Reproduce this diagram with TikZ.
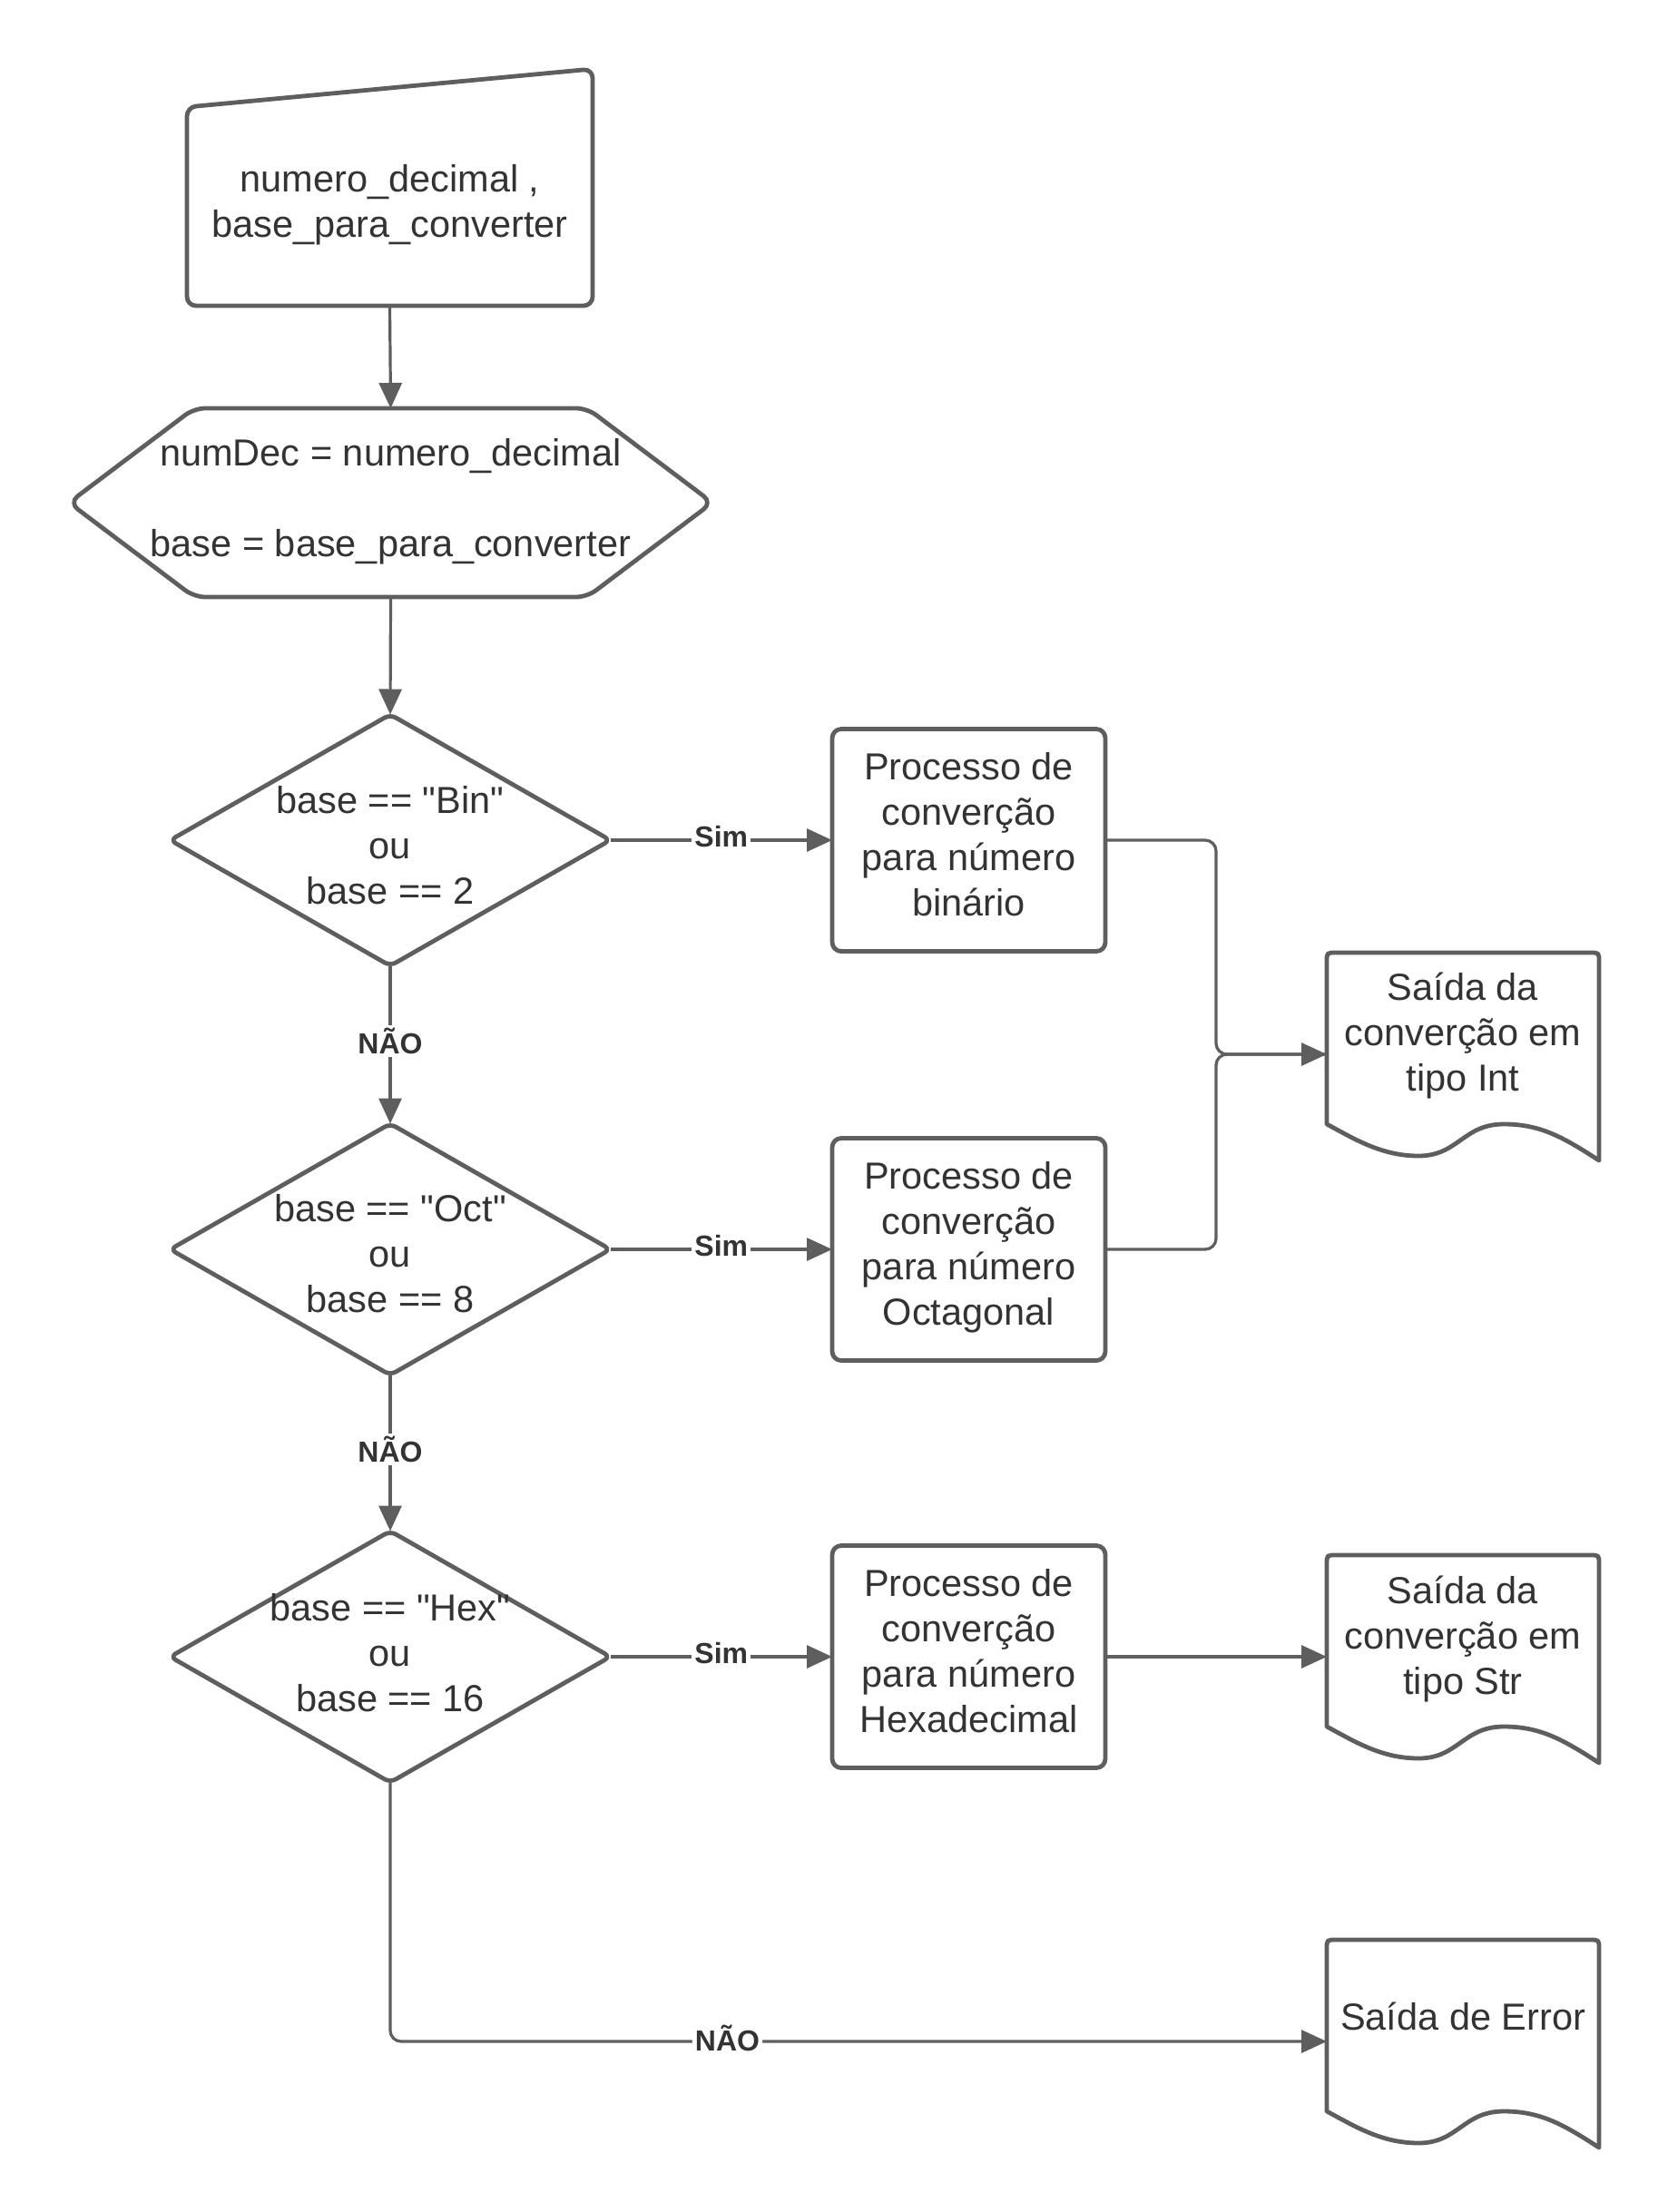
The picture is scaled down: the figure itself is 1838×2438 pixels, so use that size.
\documentclass[tikz,border=0pt]{standalone}
\usepackage{fontspec}
\setmainfont{Liberation Sans}
\usetikzlibrary{arrows.meta,shapes.geometric,calc}
\definecolor{ln}{HTML}{5E5E5E}
\definecolor{txt}{HTML}{333333}
\newcommand\mystrut{\rule[-10pt]{0pt}{44pt}}
\newcommand\lowstrut{\rule[-18pt]{0pt}{44pt}}
\newcommand\qd{\textquotedbl}
\newcommand\docshape[2]{\draw[shp] (#1,#2+189) -- (#1,#2+10) .. controls (#1,#2) .. (#1+10,#2) -- (#1+290,#2) .. controls (#1+300,#2) .. (#1+300,#2+10) -- (#1+300,#2+229) .. controls (#1+260,#2+203) and (#1+235,#2+189) .. (#1+195,#2+189) .. controls (#1+150,#2+189) and (#1+145,#2+224) .. (#1+101,#2+224) .. controls (#1+60,#2+224) and (#1+30,#2+205) .. (#1,#2+189) -- cycle;}
\begin{document}
\begin{tikzpicture}[x=1pt,y=-1pt,
  shp/.style={draw=ln, line width=4.8pt, line join=round},
  conn/.style={draw=ln, line width=3.2pt, -{Triangle[length=28pt,width=25pt]}},
  plain/.style={draw=ln, line width=3.2pt},
  txtn/.style={text=txt, font=\fontsize{41.5pt}{50pt}\selectfont, align=center, inner sep=0pt},
  lbl/.style={text=txt, font=\fontsize{32pt}{38pt}\selectfont\bfseries, fill=white, inner sep=3pt, yshift=4pt},
  proc/.style={shp, rounded corners=10pt, minimum width=301pt, minimum height=245pt, outer sep=0pt, txtn},
  dec/.style={shp, diamond, rounded corners=7pt, minimum width=485pt, minimum height=277pt, inner sep=0pt, outer sep=0pt},
  hold/.style={inner sep=0pt, outer sep=0pt, minimum width=300pt, minimum height=224pt},
]
\fill[white] (0,0) rectangle (1838,2438);
\useasboundingbox (0,0) rectangle (1838,2438);

% manual input
\draw[shp, rounded corners=10pt] (206,118) -- (653,76) -- (653,337) -- (206,337) -- cycle;
\node[inner sep=0pt, outer sep=0pt, minimum width=447pt, minimum height=219pt] (inp) at (429.5,227.5) {};
\node[txtn] (inpt) at (429.5,224.5) {\mystrut numero\_decimal ,\\ base\_para\_converter\mystrut};

% hexagon
\draw[shp, rounded corners=12pt] (76,554) -- (214,450) -- (647,450) -- (785,554) -- (647,658) -- (214,658) -- cycle;
\node[inner sep=0pt, outer sep=0pt, minimum width=709pt, minimum height=208pt] (hex) at (430.5,554) {};
\node[txtn] (hext) at (430.5,551) {\mystrut numDec = numero\_decimal\\[50pt] base = base\_para\_converter\mystrut};

% decisions
\node[dec] (d1) at (430,926) {};
\node[txtn] (d1t) at (430,934) {\mystrut base == \qd Bin\qd\\ ou\\ base == 2\mystrut};
\node[dec] (d2) at (430,1377) {};
\node[txtn] (d2t) at (430,1384) {\mystrut base == \qd Oct\qd\\ ou\\ base == 8\mystrut};
\node[dec] (d3) at (430,1826) {};
\node[txtn] (d3t) at (430,1824) {\mystrut base == \qd Hex\qd\\ ou\\ base == 16\mystrut};

% processes
\node[proc] (p1) at (1067.5,926) {\mystrut Processo de\\ converção\\ para número\\ binário\lowstrut};
\node[proc] (p2) at (1067.5,1377) {\mystrut Processo de\\ converção\\ para número\\ Octagonal\lowstrut};
\node[proc] (p3) at (1067.5,1826) {\mystrut Processo de\\ converção\\ para número\\ Hexadecimal\lowstrut};

% outputs
\docshape{1462}{1050}
\node[hold] (o1) at (1612,1162) {};
\node[txtn] (o1t) at (1612,1140) {\mystrut Saída da\\ converção em\\ tipo Int\mystrut};
\docshape{1462}{1714}
\node[hold] (o2) at (1612,1826) {};
\node[txtn] (o2t) at (1612,1805) {\mystrut Saída da\\ converção em\\ tipo Str\mystrut};
\docshape{1462}{2138}
\node[hold] (o3) at (1612,2250) {};
\node[txtn] (o3t) at (1612,2225) {\mystrut Saída de Error\mystrut};

% connectors
\draw[conn] (inp.south) -- (hex.north);
\draw[conn] (hex.south) -- (d1.north);
\draw[conn] (d1.south) -- node[lbl]{NÃO} (d2.north);
\draw[conn] (d2.south) -- node[lbl]{NÃO} (d3.north);
\draw[conn, rounded corners=12pt] (d3.south) |- node[lbl, pos=0.68]{NÃO} (o3.west);
\draw[conn] (d1.east) -- node[lbl]{Sim} (p1.west);
\draw[conn] (d2.east) -- node[lbl]{Sim} (p2.west);
\draw[conn] (d3.east) -- node[lbl]{Sim} (p3.west);
\coordinate (m) at (1340,1162);
\draw[plain, rounded corners=12pt] (p1.east) -| (m) -- (o1.west);
\draw[conn, rounded corners=12pt] (p2.east) -| (m) -- (o1.west);
\draw[conn] (p3.east) -- (o2.west);
\end{tikzpicture}
\end{document}
